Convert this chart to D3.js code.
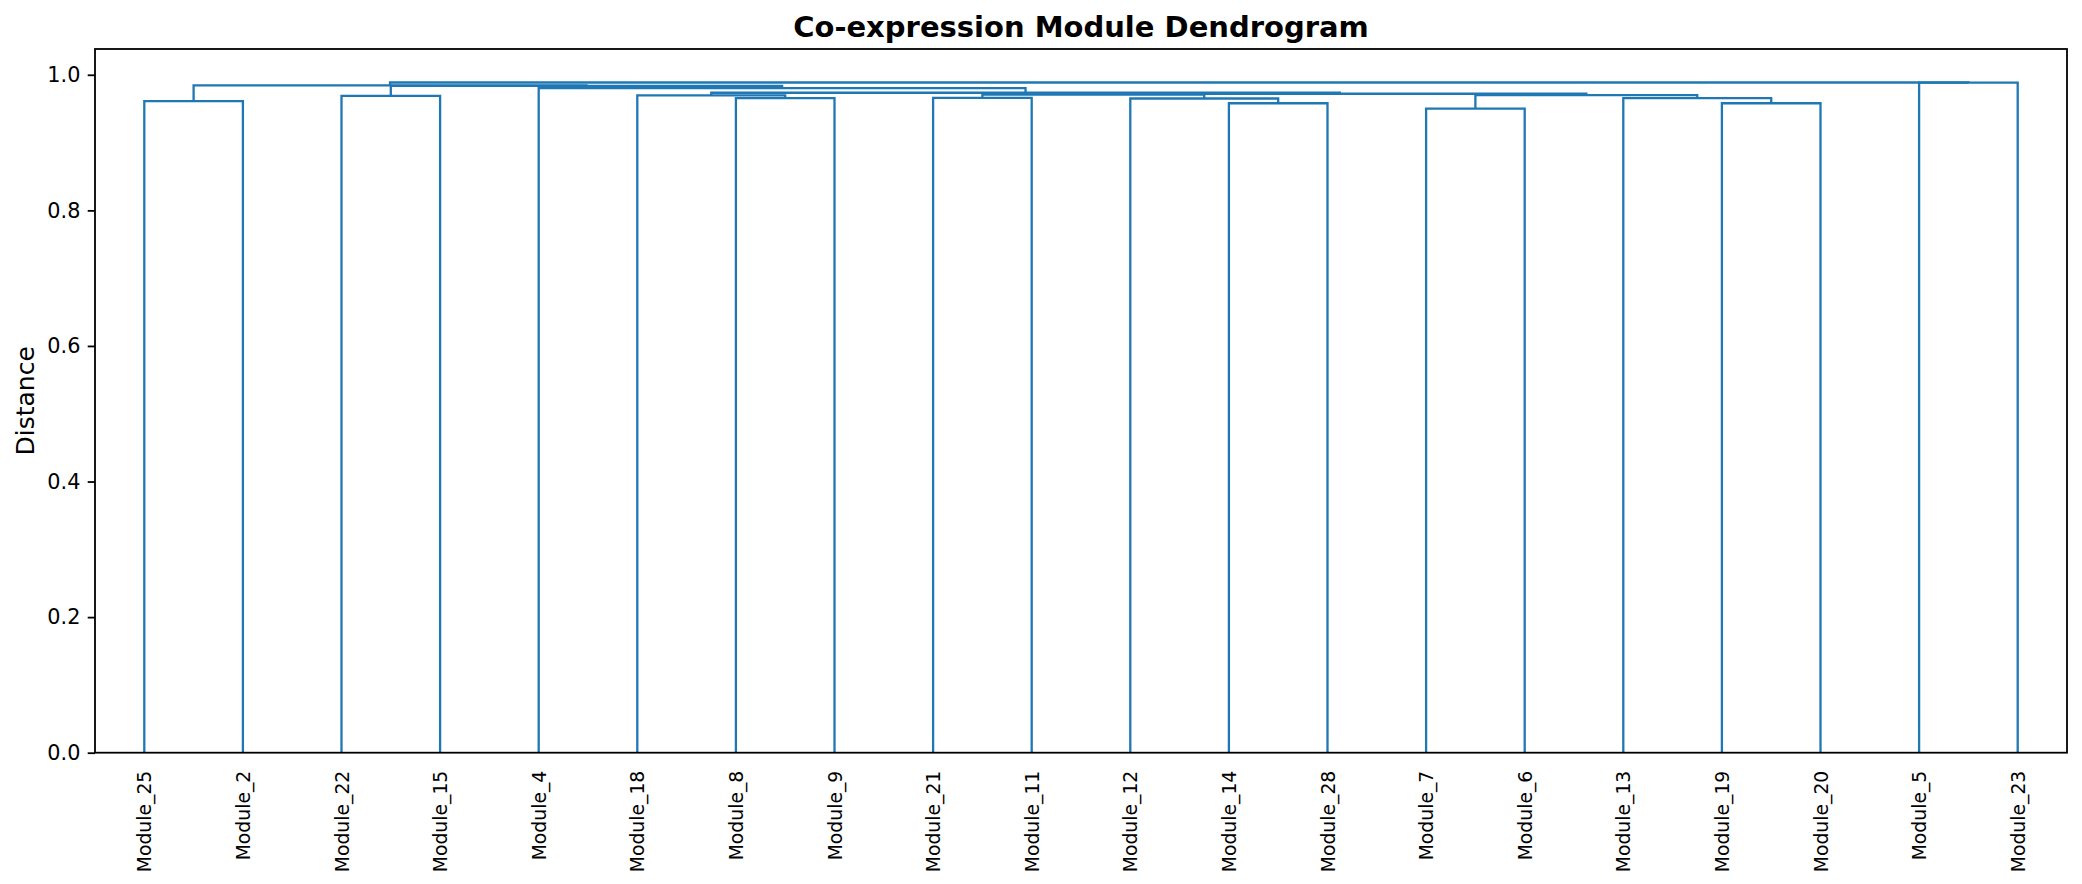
<!DOCTYPE html>
<html>
<head>
<meta charset="utf-8">
<script src="https://cdn.jsdelivr.net/npm/d3@7"></script>
<style>
  body { margin: 0; background: #fff; }
  text { font-family: "DejaVu Sans", sans-serif; fill: #000; }
</style>
</head>
<body>
<svg id="chart" width="2082" height="884"></svg>
<script>
// leaves, in the order the dendrogram shows them
const leafLabels = ['Module_25', 'Module_2', 'Module_22', 'Module_15', 'Module_4',
  'Module_18', 'Module_8', 'Module_9', 'Module_21', 'Module_11', 'Module_12',
  'Module_14', 'Module_28', 'Module_7', 'Module_6', 'Module_13', 'Module_19',
  'Module_20', 'Module_5', 'Module_23'];

// linkage: [left, right, distance]; ids < 20 are leaves, merge k gets id 20 + k
const merges = [
  [13, 14, 0.950],
  [16, 17, 0.958],
  [11, 12, 0.958],
  [0, 1, 0.961],
  [6, 7, 0.9657],
  [8, 9, 0.9660],
  [10, 22, 0.9650],
  [15, 21, 0.9657],
  [2, 3, 0.9690],
  [5, 24, 0.9696],
  [20, 27, 0.9700],
  [25, 26, 0.9706],
  [31, 30, 0.9720],
  [29, 32, 0.9735],
  [4, 33, 0.9804],
  [28, 34, 0.9836],
  [23, 35, 0.9843],
  [18, 19, 0.9885],
  [36, 37, 0.9886]
];

const yTicks = [0, 0.2, 0.4, 0.6, 0.8, 1.0];

const mLeft = 95, mRight = 2067, mTop = 49, mBottom = 752.7;
const blue = '#1f77b4';

const svg = d3.select('#chart');

const n = leafLabels.length;
const x = d3.scaleLinear().domain([0, n * 10]).range([mLeft, mRight]);
const y = d3.scaleLinear()
  .domain([0, d3.max(merges, d => d[2]) * 1.05])
  .range([mBottom, mTop]);

// position of every node, leaves first then merges (scipy style: mean of children)
let nodeX = leafLabels.map((d, i) => 5 + 10 * i);
let nodeY = leafLabels.map(() => 0);
merges.forEach(m => {
  nodeX.push((nodeX[m[0]] + nodeX[m[1]]) / 2);
  nodeY.push(m[2]);
});

let links = svg.append('g')
  .selectAll('path')
  .data(merges)
  .enter()
  .append('path')
  .attr('d', m => {
    let a = m[0], b = m[1];
    return 'M' + x(nodeX[a]) + ',' + y(nodeY[a]) +
      'V' + y(m[2]) +
      'H' + x(nodeX[b]) +
      'V' + y(nodeY[b]);
  })
  .style('fill', 'none')
  .style('stroke', blue)
  .style('stroke-width', 2.3);

// y axis
let yAxis = svg.append('g')
  .attr('transform', 'translate(' + mLeft + ',0)')
  .call(d3.axisLeft(y).tickValues(yTicks).tickFormat(d3.format('.1f'))
    .tickSize(7.3).tickPadding(7.3));
yAxis.select('.domain').remove();
yAxis.selectAll('line').attr('stroke', '#000').attr('stroke-width', 1.8);
yAxis.selectAll('text').style('font-size', '20.8px')
  .style('font-family', '"DejaVu Sans", sans-serif').attr('fill', '#000');

// x axis with rotated leaf labels
let xAxis = svg.append('g')
  .attr('transform', 'translate(0,' + mBottom + ')')
  .call(d3.axisBottom(x)
    .tickValues(leafLabels.map((d, i) => 5 + 10 * i))
    .tickFormat((d, i) => leafLabels[i])
    .tickSize(0));
xAxis.select('.domain').remove();
xAxis.selectAll('text')
  .attr('transform', 'rotate(-90)')
  .attr('x', -18)
  .attr('y', 0)
  .attr('dy', '0.35em')
  .attr('text-anchor', 'end')
  .style('font-size', '18.8px')
  .style('font-family', '"DejaVu Sans", sans-serif')
  .attr('fill', '#000');

// frame
svg.append('rect')
  .attr('x', mLeft).attr('y', mTop)
  .attr('width', mRight - mLeft).attr('height', mBottom - mTop)
  .style('fill', 'none')
  .style('stroke', '#000')
  .style('stroke-width', 1.8);

svg.append('text')
  .attr('transform', 'translate(34,' + (mTop + mBottom) / 2 + ') rotate(-90)')
  .attr('text-anchor', 'middle')
  .style('font-size', '25px')
  .text('Distance');

svg.append('text')
  .attr('x', (mLeft + mRight) / 2)
  .attr('y', 36.5)
  .attr('text-anchor', 'middle')
  .style('font-size', '29px')
  .style('font-weight', 'bold')
  .text('Co-expression Module Dendrogram');
</script>
</body>
</html>
